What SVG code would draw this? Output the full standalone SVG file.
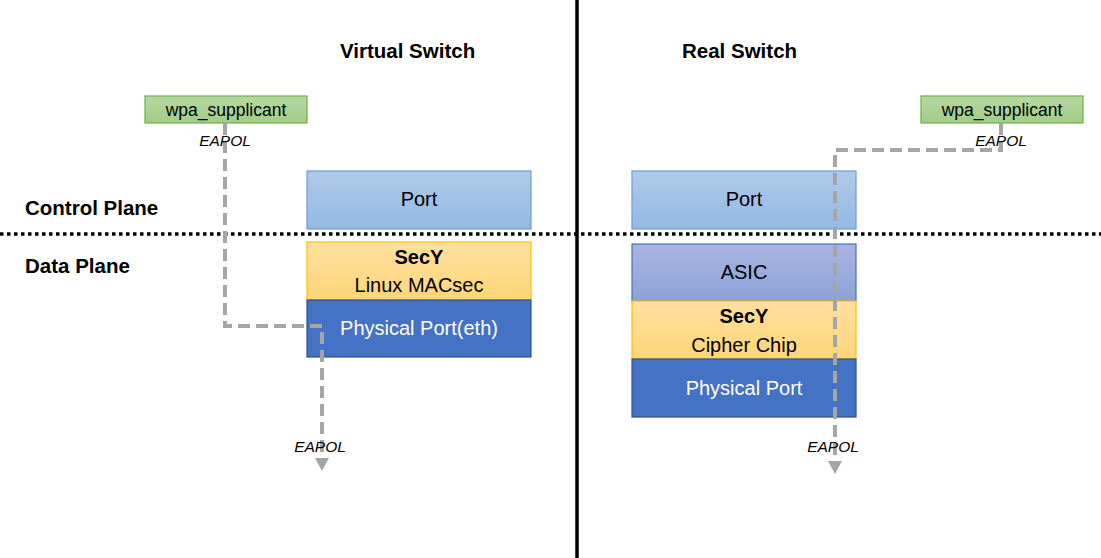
<svg xmlns="http://www.w3.org/2000/svg" width="1101" height="558" viewBox="0 0 1101 558">
<defs>
<linearGradient id="gBlue" x1="0" y1="0" x2="0" y2="1"><stop offset="0" stop-color="#B0C9E8"/><stop offset="1" stop-color="#93B9E4"/></linearGradient>
<linearGradient id="gYel" x1="0" y1="0" x2="0" y2="1"><stop offset="0" stop-color="#FFE0A0"/><stop offset="1" stop-color="#FFD578"/></linearGradient>
<linearGradient id="gAsic" x1="0" y1="0" x2="0" y2="1"><stop offset="0" stop-color="#A8B4DF"/><stop offset="1" stop-color="#8DA2D8"/></linearGradient>
<linearGradient id="gGreen" x1="0" y1="0" x2="0" y2="1"><stop offset="0" stop-color="#B5D7A0"/><stop offset="1" stop-color="#A3CC8A"/></linearGradient>
<marker id="arr" markerWidth="14" markerHeight="14" refX="1" refY="7" orient="auto" markerUnits="userSpaceOnUse"><path d="M0,0 L13,7 L0,14 Z" fill="#A5A5A5"/></marker>
<style>
text{font-family:"Liberation Sans",Arial,sans-serif;fill:#000}
.h{font-weight:bold;font-size:20.5px}
.lbl{font-size:20px;text-anchor:middle}
.b{font-weight:bold}
.w{fill:#fff}
.sm{font-size:17.5px;text-anchor:middle}
.it{font-style:italic;font-size:15.5px;text-anchor:middle}
.con{fill:none;stroke:#A5A5A5;stroke-width:4;stroke-dasharray:12 6}
.port{fill:url(#gBlue);stroke:#6A9FD8;stroke-width:1.2}
.secy{fill:url(#gYel);stroke:#FFC000;stroke-width:1.2}
.phy{fill:#4472C4;stroke:#2F528F;stroke-width:1.2}
.asic{fill:url(#gAsic);stroke:#4472C4;stroke-width:1.2}
.wpa{fill:url(#gGreen);stroke:#70AD47;stroke-width:1.2}
</style>
</defs>
<rect width="1101" height="558" fill="#fff"/>
<g id="dividers">
<line x1="577" y1="0" x2="577" y2="558" stroke="#000" stroke-width="3.5"/>
<line x1="0" y1="234" x2="1101" y2="234" stroke="#000" stroke-width="3.5" stroke-dasharray="3.5 3.5"/>
</g>
<g id="titles">
<text class="h" x="340" y="58">Virtual Switch</text>
<text class="h" x="682" y="58">Real Switch</text>
<text class="h" x="25" y="215">Control Plane</text>
<text class="h" x="25" y="273">Data Plane</text>
</g>
<g id="v-port"><rect class="port" x="307" y="171" width="224" height="58"/><text class="lbl" x="419" y="206">Port</text></g>
<g id="v-secy"><rect class="secy" x="307" y="242" width="224" height="58"/><text class="lbl b" x="419" y="264">SecY</text><text class="lbl" x="419" y="292">Linux MACsec</text></g>
<g id="v-phy"><rect class="phy" x="307" y="300" width="224" height="57"/><text class="lbl w" x="419" y="335">Physical Port(eth)</text></g>
<g id="v-wpa"><rect class="wpa" x="145" y="96" width="162" height="27"/><text class="sm" x="226" y="116">wpa_supplicant</text></g>
<g id="r-port"><rect class="port" x="632" y="171" width="224" height="58"/><text class="lbl" x="744" y="206">Port</text></g>
<g id="r-asic"><rect class="asic" x="632" y="244" width="224" height="57"/><text class="lbl" x="744" y="279">ASIC</text></g>
<g id="r-secy"><rect class="secy" x="632" y="301" width="224" height="58"/><text class="lbl b" x="744" y="323">SecY</text><text class="lbl" x="744" y="352">Cipher Chip</text></g>
<g id="r-phy"><rect class="phy" x="632" y="359" width="224" height="58"/><text class="lbl w" x="744" y="395">Physical Port</text></g>
<g id="r-wpa"><rect class="wpa" x="921" y="96" width="162" height="27"/><text class="sm" x="1002" y="116">wpa_supplicant</text></g>
<g id="connectors">
<path class="con" d="M225,123 V326 H322 V459" marker-end="url(#arr)"/>
<path class="con" d="M1001,123 V150 H835 V462" marker-end="url(#arr)"/>
</g>
<g id="labels">
<text class="it" x="225" y="146">EAPOL</text>
<text class="it" x="320" y="452">EAPOL</text>
<text class="it" x="1001" y="146">EAPOL</text>
<text class="it" x="833" y="452">EAPOL</text>
</g>
</svg>
